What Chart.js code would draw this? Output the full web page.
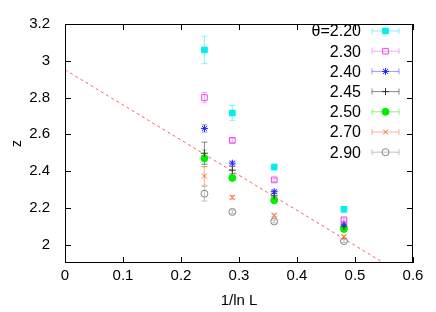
<!DOCTYPE html>
<html>
<head>
<meta charset="utf-8">
<script src="https://cdn.jsdelivr.net/npm/chart.js@4.4.0/dist/chart.umd.min.js"></script>
<style>
  html, body { margin: 0; padding: 0; background: #fff; }
  #wrap { width: 436px; height: 312px; }
</style>
</head>
<body>
<div id="wrap"><canvas id="zChart"></canvas></div>
<script>
// data: x = 1/ln L
const xValues = [0.2404, 0.2885, 0.3607, 0.4809];
const thetaLabels = ['θ=2.20', '2.30', '2.40', '2.45', '2.50', '2.70', '2.90'];

const z220 = [3.059, 2.716, 2.422, 2.192];
const e220 = [0.075, 0.04, 0.015, 0.012];
const z230 = [2.800, 2.567, 2.352, 2.135];
const e230 = [0.028, 0.012, 0.008, 0.008];
const z240 = [2.632, 2.443, 2.288, 2.112];
const e240 = [0.02, 0.01, 0.008, 0.008];
const z245 = [2.497, 2.405, 2.265, 2.100];
const e245 = [0.06, 0.02, 0.012, 0.01];
const z250 = [2.470, 2.363, 2.241, 2.085];
const e250 = [0.045, 0.01, 0.008, 0.008];
const z270 = [2.373, 2.257, 2.159, 2.043];
const e270 = [0.05, 0.01, 0.008, 0.008];
const z290 = [2.277, 2.178, 2.126, 2.019];
const e290 = [0.04, 0.01, 0.008, 0.008];

// dashed fit line endpoints
const fitX = [0, 0.6];
const fitZ = [2.951, 1.804];

const xTicks = [0, 0.1, 0.2, 0.3, 0.4, 0.5, 0.6];
const yTicks = [2, 2.2, 2.4, 2.6, 2.8, 3, 3.2];

const FONT = "'Liberation Sans', Arial, sans-serif";

const seriesDefs = [
  { z: z220, e: e220, color: '#00eeee', bar: 'rgba(0,230,230,0.45)', style: 'rect', fill: true, r: 4 },
  { z: z230, e: e230, color: '#ee44ee', bar: 'rgba(238,68,238,0.45)', style: 'rect', fill: false, r: 4 },
  { z: z240, e: e240, color: '#2222ff', bar: 'rgba(34,34,255,0.45)', style: 'star', fill: false, r: 3.5 },
  { z: z245, e: e245, color: '#333333', bar: 'rgba(40,40,40,0.55)', style: 'cross', fill: false, r: 3.5 },
  { z: z250, e: e250, color: '#00ee00', bar: 'rgba(0,220,0,0.45)', style: 'circle', fill: true, r: 3.5 },
  { z: z270, e: e270, color: '#ff6633', bar: 'rgba(255,102,51,0.5)', style: 'crossRot', fill: false, r: 3.5 },
  { z: z290, e: e290, color: '#888888', bar: 'rgba(136,136,136,0.5)', style: 'circle', fill: false, r: 3.5 }
];

const datasets = seriesDefs.map((s, i) => ({
  label: thetaLabels[i],
  data: xValues.map((x, j) => ({ x: x, y: s.z[j] })),
  errors: s.e,
  barColor: s.bar,
  showLine: false,
  pointStyle: s.style,
  pointRadius: s.r,
  pointBorderWidth: 1,
  borderColor: s.color,
  backgroundColor: s.fill ? s.color : 'rgba(0,0,0,0)',
  pointBackgroundColor: s.fill ? s.color : 'rgba(0,0,0,0)',
  order: 1
}));

datasets.push({
  label: 'fit',
  data: fitX.map((x, j) => ({ x: x, y: fitZ[j] })),
  showLine: true,
  borderColor: 'rgba(240,50,50,0.75)',
  borderWidth: 1,
  borderDash: [3, 3],
  pointRadius: 0,
  order: 2
});

const errorBars = {
  id: 'errorBars',
  beforeDatasetsDraw(chart) {
    const ctx = chart.ctx, ys = chart.scales.y, xs = chart.scales.x;
    ctx.save();
    chart.data.datasets.forEach(ds => {
      if (!ds.errors) return;
      ctx.strokeStyle = ds.barColor;
      ctx.lineWidth = 1;
      ds.data.forEach((p, j) => {
        const px = xs.getPixelForValue(p.x);
        const y1 = ys.getPixelForValue(p.y - ds.errors[j]);
        const y2 = ys.getPixelForValue(p.y + ds.errors[j]);
        ctx.beginPath();
        ctx.moveTo(px, y1); ctx.lineTo(px, y2);
        ctx.moveTo(px - 3, y1); ctx.lineTo(px + 3, y1);
        ctx.moveTo(px - 3, y2); ctx.lineTo(px + 3, y2);
        ctx.stroke();
      });
    });
    ctx.restore();
  }
};

const frameAndLegend = {
  id: 'frameAndLegend',
  afterDraw(chart) {
    const ctx = chart.ctx, a = chart.chartArea;
    const xs = chart.scales.x, ys = chart.scales.y;
    ctx.save();
    ctx.strokeStyle = '#000';
    ctx.lineWidth = 1;
    ctx.strokeRect(a.left + 0.5, a.top + 0.5, a.right - a.left - 1, a.bottom - a.top - 1);
    ctx.beginPath();
    xTicks.forEach(v => {
      const px = Math.round(xs.getPixelForValue(v)) + 0.5;
      ctx.moveTo(px, a.bottom); ctx.lineTo(px, a.bottom - 6);
      ctx.moveTo(px, a.top); ctx.lineTo(px, a.top + 6);
    });
    yTicks.forEach(v => {
      const py = Math.round(ys.getPixelForValue(v)) + 0.5;
      ctx.moveTo(a.left, py); ctx.lineTo(a.left + 6, py);
      ctx.moveTo(a.right, py); ctx.lineTo(a.right - 6, py);
    });
    ctx.stroke();

    // legend: text right-aligned, sample on the right
    ctx.font = '16px ' + FONT;
    ctx.textAlign = 'right';
    ctx.textBaseline = 'middle';
    chart.data.datasets.forEach((ds, i) => {
      if (!ds.errors) return;
      const yy = 31 + i * 20.2;
      ctx.fillStyle = '#000';
      ctx.fillText(ds.label, 361, yy + 1);
      ctx.strokeStyle = ds.barColor;
      ctx.beginPath();
      ctx.moveTo(372, yy); ctx.lineTo(399, yy);
      ctx.moveTo(372, yy - 3); ctx.lineTo(372, yy + 3);
      ctx.moveTo(399, yy - 3); ctx.lineTo(399, yy + 3);
      ctx.stroke();
      ctx.fillStyle = ds.pointBackgroundColor;
      ctx.strokeStyle = ds.borderColor;
      Chart.helpers.drawPoint(ctx, {
        pointStyle: ds.pointStyle, radius: ds.pointRadius, rotation: 0, borderWidth: 1
      }, 385.5, yy);
    });
    ctx.restore();
  }
};

const fmt = v => String(+Number(v).toFixed(1));

new Chart(document.getElementById('zChart'), {
  type: 'scatter',
  data: { datasets: datasets },
  options: {
    responsive: true,
    maintainAspectRatio: false,
    animation: false,
    layout: { padding: { top: 15, right: 23, left: 0, bottom: 0 } },
    plugins: { legend: { display: false }, tooltip: { enabled: false } },
    scales: {
      x: {
        type: 'linear', min: 0, max: 0.6,
        afterBuildTicks: s => { s.ticks = xTicks.map(v => ({ value: v })); },
        afterFit: s => { s.height = 49; },
        grid: { display: false, drawTicks: false },
        border: { display: false },
        ticks: { color: '#000', font: { family: FONT, size: 15 }, padding: 4, callback: fmt, maxRotation: 0 },
        title: { display: true, text: '1/ln L', color: '#000', font: { family: FONT, size: 15 }, padding: { top: 0, bottom: 2 } }
      },
      y: {
        type: 'linear', min: 1.9, max: 3.2,
        afterBuildTicks: s => { s.ticks = yTicks.map(v => ({ value: v })); },
        afterFit: s => { s.width = 65; },
        grid: { display: false, drawTicks: false },
        border: { display: false },
        ticks: { color: '#000', font: { family: FONT, size: 15 }, padding: 15, callback: fmt },
        title: { display: true, text: 'z', color: '#000', font: { family: FONT, size: 14 }, padding: { top: 9, bottom: 0 } }
      }
    }
  },
  plugins: [errorBars, frameAndLegend]
});
</script>
</body>
</html>
